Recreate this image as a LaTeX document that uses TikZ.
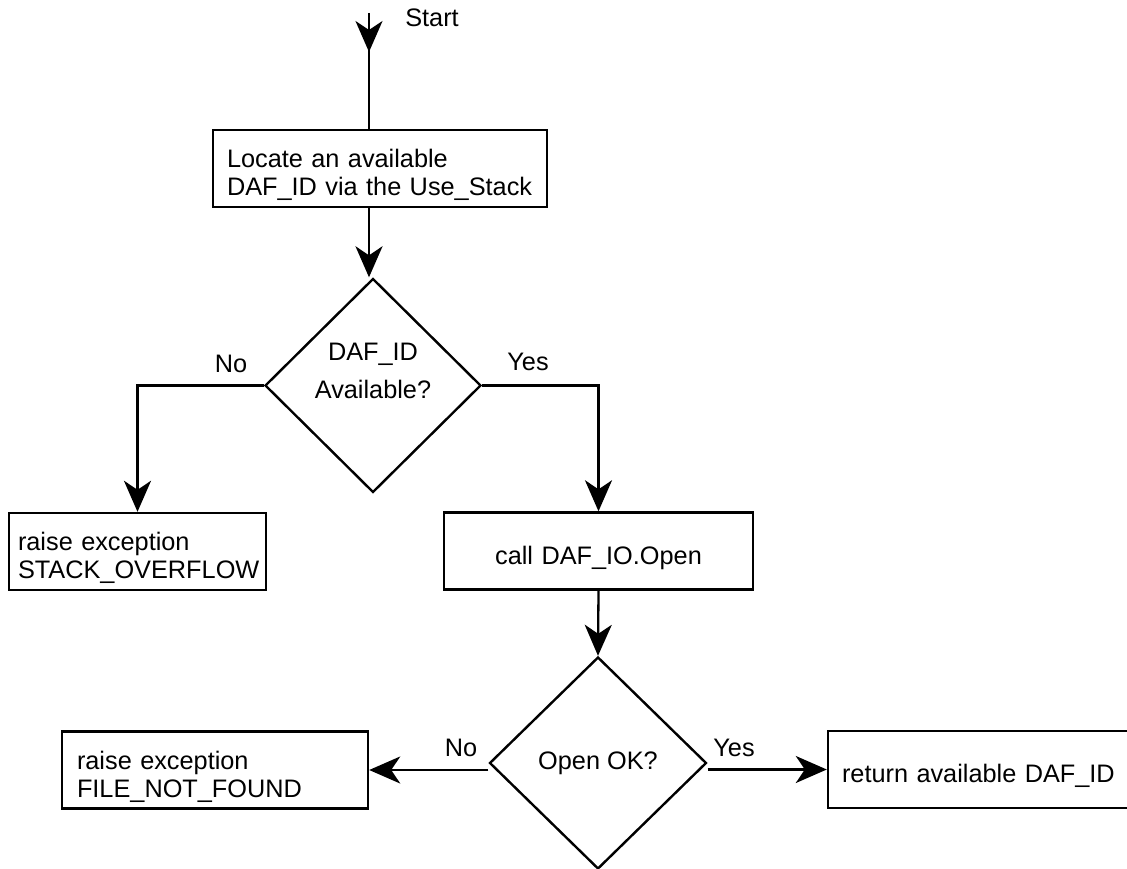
\documentclass[tikz,border=0pt]{standalone}
\usepackage{fontspec}
\setmainfont{Liberation Sans}
\usetikzlibrary{shapes.geometric, arrows.meta, decorations.markings}

\tikzset{
  txt/.style={font=\fontsize{25.3}{28}\selectfont, inner sep=0pt},
  stepbox/.style={txt, draw, line width=2.4pt, rectangle, minimum height=77pt,
    inner xsep=15pt, align=left, execute at begin node={\rule{0pt}{32pt}}},
  decision/.style={txt, draw, line width=2.4pt, diamond, aspect=1,
    minimum width=216pt, minimum height=214pt},
  tip/.tip={Stealth[length=31pt, width=27pt, inset=9pt]},
  flow/.style={line width=2.3pt, -tip},
}

\begin{document}
\begin{tikzpicture}[x=1pt, y=-1pt]
    \useasboundingbox (0,0) rectangle (1127,869);

    % entry
    \coordinate (start) at (369,13);
    \node[txt] (startlbl) at (432,18) {Start};

    % pick an id
    \node[stepbox, inner xsep=14pt, text width=306pt] (loc) at (380,168.5)
      {Locate an available\\DAF\_ID via the Use\_Stack};

    % first test
    \node[decision] (avail) at (373,385.5) {};
    \node[txt, align=center] (availtxt) at (373,371) {DAF\_ID\\[10pt]Available?};
    \node[txt] (availno) at (231,364) {No};
    \node[txt] (availyes) at (528,362) {Yes};

    \node[stepbox, inner xsep=9pt, text width=239pt] (ovf) at (137.5,551.5)
      {raise exception\\STACK\_OVERFLOW};
    \node[stepbox, align=center, text width=279pt] (open) at (598.5,551)
      {call DAF\_IO.Open};

    % second test
    \node[decision, minimum width=217pt, minimum height=212pt] (ok) at (598,763)
      {Open OK?};
    \node[txt] (okno) at (461,748) {No};
    \node[txt] (okyes) at (734,748) {Yes};

    \node[stepbox, text width=276pt] (nf) at (215,770)
      {raise exception\\FILE\_NOT\_FOUND};
    \node[stepbox, inner xsep=14pt, text width=275pt] (done) at (979.5,769.5)
      {return available DAF\_ID};

    % connectors
    \draw[line width=2.3pt, postaction={decorate},
      decoration={markings, mark=at position 39pt with {\arrow{tip}}}]
      (start) -- (loc.north -| start);
    \draw[flow] (loc.south -| start) -- (avail.north -| start);
    \draw[flow] (avail.west) -| (ovf.north);
    \draw[flow] (avail.east) -| (open.north);
    \draw[flow] (open.south) -- (ok.north);
    \draw[flow] (ok.west |- nf.east) -- (nf.east);
    \draw[flow] (ok.east |- done.west) -- (done.west);
\end{tikzpicture}
\end{document}
